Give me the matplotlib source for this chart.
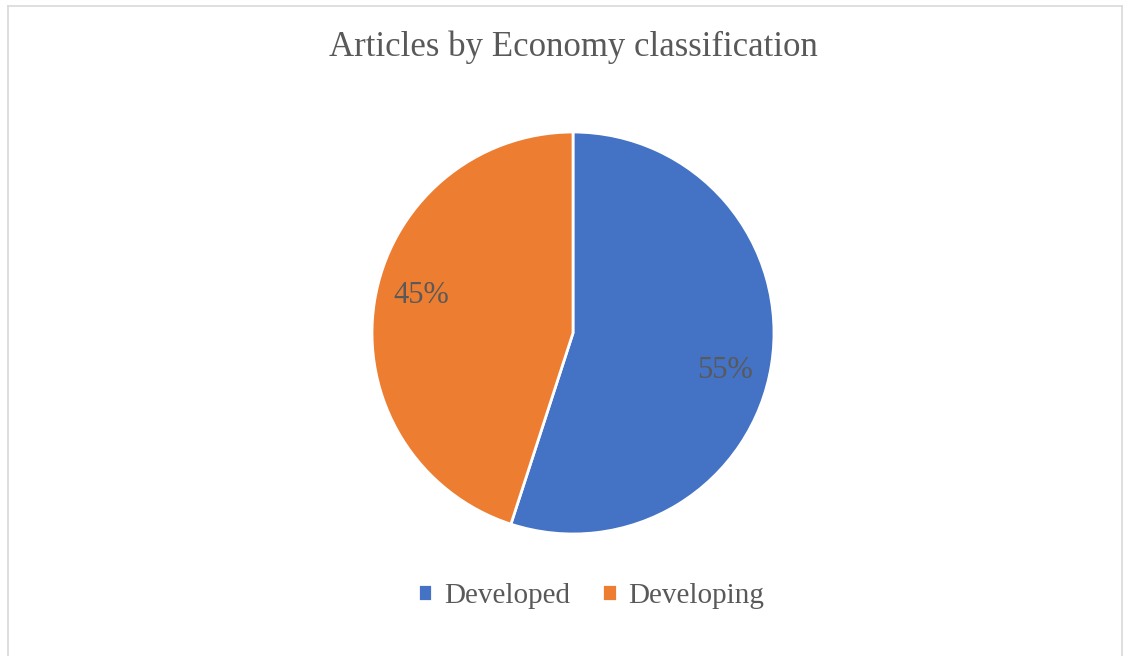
import numpy as np
import matplotlib.pyplot as plt
from matplotlib.lines import Line2D

labels = ['Developed', 'Developing']
values = [55, 45]
colors = ['#4472C4', '#ED7D31']

plt.rcParams['font.family'] = ['Liberation Serif', 'DejaVu Serif']
txt = '#595959'

fig = plt.figure(figsize=(11.3, 6.56), dpi=100)

# chart frame
W, H = 1130, 656
for xs, ys in [([8, 8], [0, H - 6]), ([8, 1122], [H - 6, H - 6]), ([1122, 1122], [0, H - 6])]:
    fig.add_artist(Line2D([x / W for x in xs], [y / H for y in ys], color='#D9D9D9', lw=1.2))

ax = fig.add_axes([371 / W, (656 - 535) / H, 404 / W, 404 / H])
wedges, texts, autotexts = ax.pie(values, colors=colors, startangle=90, counterclock=False,
                                  autopct='%1.0f%%', pctdistance=0.78,
                                  wedgeprops=dict(edgecolor='white', linewidth=2),
                                  textprops=dict(color=txt, fontsize=22))
# excel "best fit" puts the labels a little clockwise of the slice middle
for w, t in zip(wedges, autotexts):
    ang = np.deg2rad((w.theta1 + w.theta2) / 2 - 5)
    t.set_position((0.78 * np.cos(ang), 0.78 * np.sin(ang)))

ax.set_xlim(-1.005, 1.005)
ax.set_ylim(-1.005, 1.005)
ax.set_aspect('equal')

fig.text(573 / W, 1 - 47 / H, 'Articles by Economy classification', ha='center', va='center',
         fontsize=25, color=txt)

fig.legend(wedges, labels, loc='center', bbox_to_anchor=(591 / W, 1 - 596 / H), ncol=2,
           frameon=False, fontsize=21, handlelength=0.5, handleheight=0.5, handletextpad=0.4,
           columnspacing=1.1, labelcolor=txt)

fig.savefig('out.png', dpi=100)
